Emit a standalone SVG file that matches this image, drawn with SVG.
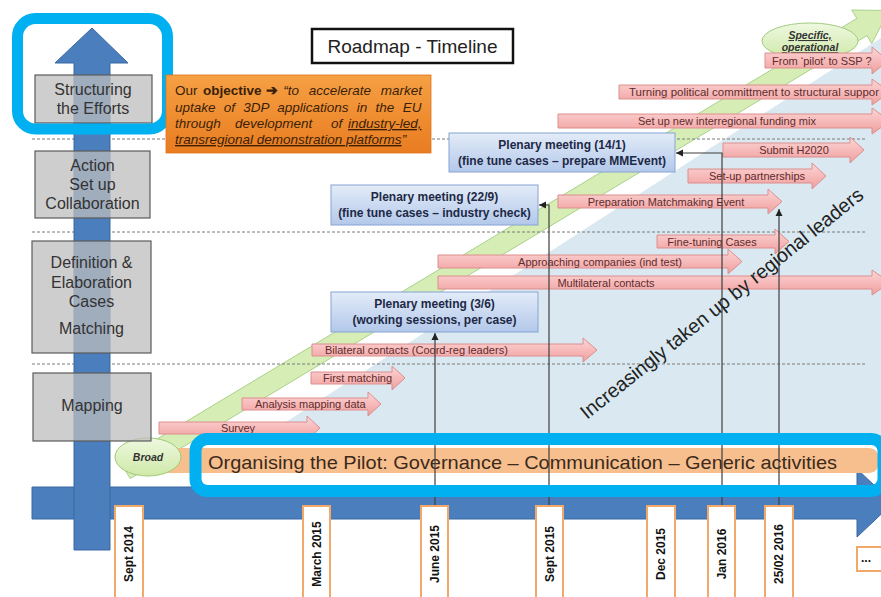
<svg xmlns="http://www.w3.org/2000/svg" width="881" height="597" viewBox="0 0 881 597">
<defs>
<linearGradient id="pk" x1="0" y1="0" x2="0" y2="1"><stop offset="0" stop-color="#fcd6d6"/><stop offset="1" stop-color="#f19e9e"/></linearGradient>
<linearGradient id="pl" x1="0" y1="0" x2="0" y2="1"><stop offset="0" stop-color="#e3ecf8"/><stop offset="1" stop-color="#b3c8ea"/></linearGradient>
<linearGradient id="og" x1="0" y1="0" x2="0" y2="1"><stop offset="0" stop-color="#f6a044"/><stop offset="1" stop-color="#e97c20"/></linearGradient>
<linearGradient id="gr" x1="0" y1="0" x2="0" y2="1"><stop offset="0" stop-color="#eef8e0"/><stop offset="1" stop-color="#cfe9a8"/></linearGradient>
<marker id="ah" markerWidth="8" markerHeight="8" refX="7" refY="4" orient="auto" markerUnits="userSpaceOnUse"><path d="M0,0.5 L7,4 L0,7.5 Z" fill="#222"/></marker>
<style>
text{font-family:"Liberation Sans",Arial,sans-serif}
.pa path{fill:url(#pk);stroke:#dc8e8e;stroke-width:1}
.pa text{font-size:11px;fill:#5e2c2c}
.pb rect{fill:url(#pl);stroke:#86a4d4;stroke-width:1}
.pb text{font-size:12px;font-weight:bold;fill:#1d2946;text-anchor:middle}
.gb rect{fill:#bdbdbd;fill-opacity:0.75;stroke:#5b5b5b;stroke-width:1.2}
.gb text{font-size:16px;fill:#333;text-anchor:middle}
.dl{stroke:#7a7a7a;stroke-width:1;stroke-dasharray:3 2}
.tl{fill:none;stroke:#3f3f3f;stroke-width:1.2}
.dt rect{fill:#fff;stroke:#f1a868;stroke-width:2}
.dt text{font-size:12px;font-weight:bold;fill:#111;text-anchor:middle}
.cy{fill:none;stroke:#00b0f0}
.ba{fill:#4a7ebd;stroke:#3a68a2;stroke-width:1}
.ob{font-size:13.5px;fill:#3a1f08;font-style:italic}
</style>
</defs>
<rect width="881" height="597" fill="#fff"/>
<!-- light blue region -->
<polygon points="258,440 881,38 881,442" fill="#dae9f1"/>
<!-- green band arrow -->
<path d="M119.9,461.4 L856.9,18.4 L851.7,10 L889,10.5 L871.7,43.7 L867,35.6 L130.2,478.6 Z" fill="#d6eeb6" stroke="#a9d18a" stroke-width="1"/>
<!-- dashed separators -->
<g id="separators">
<line class="dl" x1="32" y1="139" x2="866" y2="139"/>
<line class="dl" x1="32" y1="232" x2="866" y2="232"/>
<line class="dl" x1="32" y1="364" x2="866" y2="364"/>
</g>
<!-- horizontal time arrow -->
<path id="time-axis" class="ba" d="M32,487 H857 V469 L893,503 L857,537 V519 H32 Z"/>
<!-- specific ellipse -->
<g id="specific">
<ellipse cx="810" cy="41" rx="48" ry="18" fill="url(#gr)" stroke="#a3cc80"/>
<text x="810" y="39" font-size="10.5" font-weight="bold" font-style="italic" fill="#333" text-anchor="middle" text-decoration="underline">Specific,</text>
<text x="810" y="51" font-size="10.5" font-weight="bold" font-style="italic" fill="#333" text-anchor="middle" text-decoration="underline">operational</text>
</g>
<!-- pink activity arrows -->
<g id="a-pilot" class="pa"><path d="M765,53 H872 V47 L888,60.5 L872,74 V68 H765 Z"/><text x="772" y="64.5" font-size="11.5">From ‘pilot’ to SSP ?</text></g>
<g id="a-turning" class="pa"><path d="M619,85 H872 V79 L890,92 L872,105 V99 H619 Z"/><text x="629" y="96" textLength="250" lengthAdjust="spacingAndGlyphs">Turning political committment to structural suppor</text></g>
<g id="a-funding" class="pa"><path d="M558,114 H872 V108 L890,121 L872,134 V128 H558 Z"/><text x="727" y="125" text-anchor="middle">Set up new interregional funding mix</text></g>
<g id="a-submit" class="pa"><path d="M723,143 H850 V137 L864,150 L850,163 V157 H723 Z"/><text x="794" y="154" text-anchor="middle">Submit H2020</text></g>
<g id="a-partner" class="pa"><path d="M688,169 H812 V163 L826,176 L812,189 V183 H688 Z"/><text x="757" y="180" text-anchor="middle">Set-up partnerships</text></g>
<g id="a-prep" class="pa"><path d="M558,195 H768 V189 L782,201.5 L768,214 V208 H558 Z"/><text x="666" y="205.5" text-anchor="middle">Preparation Matchmaking Event</text></g>
<g id="a-finetune" class="pa"><path d="M657,235 H775 V229 L789,241.5 L775,254 V248 H657 Z"/><text x="712" y="245.5" text-anchor="middle">Fine-tuning Cases</text></g>
<g id="a-approach" class="pa"><path d="M438,255 H728 V249 L742,261.5 L728,274 V268 H438 Z"/><text x="600" y="265.5" text-anchor="middle">Approaching companies (ind test)</text></g>
<g id="a-multi" class="pa"><path d="M438,276 H872 V270 L890,282.5 L872,295 V289 H438 Z"/><text x="606" y="286.5" text-anchor="middle">Multilateral contacts</text></g>
<g id="a-bilateral" class="pa"><path d="M312,344 H583 V338 L597,350 L583,362 V356 H312 Z"/><text x="325" y="354">Bilateral contacts (Coord-reg leaders)</text></g>
<g id="a-first" class="pa"><path d="M311,372 H392 V366 L405,378 L392,390 V384 H311 Z"/><text x="323" y="382">First matching</text></g>
<g id="a-analysis" class="pa"><path d="M242,398 H368 V392 L381,404 L368,416 V410 H242 Z"/><text x="255" y="408">Analysis mapping data</text></g>
<g id="a-survey" class="pa"><path d="M159,422 H307 V416 L320,428 L307,440 V434 H159 Z"/><text x="238" y="432" text-anchor="middle">Survey</text></g>
<!-- plenary meetings -->
<g id="p-14-1" class="pb"><rect x="449" y="133" width="226" height="39"/><text x="562" y="149">Plenary meeting (14/1)</text><text x="562" y="165">(fine tune cases – prepare MMEvent)</text></g>
<g id="p-22-9" class="pb"><rect x="331" y="185" width="207" height="40"/><text x="434.5" y="201">Plenary meeting (22/9)</text><text x="434.5" y="217">(fine tune cases – industry check)</text></g>
<g id="p-3-6" class="pb"><rect x="331" y="292" width="207" height="40"/><text x="434.5" y="308">Plenary meeting (3/6)</text><text x="434.5" y="324">(working sessions, per case)</text></g>
<!-- organising bar -->
<g id="organising">
<path d="M150,448 H868 Q879,448 879,460.5 Q879,473 868,473 H150 Z" fill="#f7bf8e"/>
<text x="208" y="469" font-size="19" fill="#3b2a1c" textLength="629" lengthAdjust="spacingAndGlyphs">Organising the Pilot: Governance – Communication – Generic activities</text>
</g>
<!-- broad ellipse -->
<g id="broad">
<ellipse cx="148" cy="457" rx="33" ry="19" fill="url(#gr)" stroke="#9fc977"/>
<text x="148" y="461" font-size="10.5" font-weight="bold" font-style="italic" fill="#333" text-anchor="middle">Broad</text>
</g>
<!-- timeline connectors -->
<g id="connectors">
<path class="tl" d="M435,506 V333" marker-end="url(#ah)"/>
<path class="tl" d="M549,506 V205 H539" marker-end="url(#ah)"/>
<path class="tl" d="M722,506 V153 H676" marker-end="url(#ah)"/>
<path class="tl" d="M779,506 V209" marker-end="url(#ah)"/>
</g>
<!-- highlight frames -->
<rect class="cy" x="195.5" y="439" width="688" height="52" rx="12" stroke-width="12"/>
<!-- date labels -->
<g id="d-sep14" class="dt"><rect x="115" y="506" width="28" height="95"/><text transform="translate(133.3,554) rotate(-90)">Sept 2014</text></g>
<g id="d-mar15" class="dt"><rect x="303" y="506" width="27" height="95"/><text transform="translate(320.8,554) rotate(-90)">March 2015</text></g>
<g id="d-jun15" class="dt"><rect x="421" y="506" width="27" height="95"/><text transform="translate(438.8,554) rotate(-90)">June 2015</text></g>
<g id="d-sep15" class="dt"><rect x="536" y="506" width="27" height="95"/><text transform="translate(553.8,554) rotate(-90)">Sept 2015</text></g>
<g id="d-dec15" class="dt"><rect x="647" y="506" width="28" height="95"/><text transform="translate(665.3,554) rotate(-90)">Dec 2015</text></g>
<g id="d-jan16" class="dt"><rect x="708" y="506" width="27" height="95"/><text transform="translate(725.8,554) rotate(-90)">Jan 2016</text></g>
<g id="d-feb16" class="dt"><rect x="765" y="506" width="28" height="95"/><text transform="translate(783.3,554) rotate(-90)">25/02 2016</text></g>
<g id="d-more" class="dt"><rect x="857" y="547" width="30" height="24"/><text x="866" y="562" font-size="10" font-weight="normal" fill="#777">...</text></g>
<!-- vertical effort arrow -->
<path id="effort-axis" class="ba" d="M74,550 V63 H55 L92,28 L128,63 H110 V550 Z"/>
<!-- phase boxes -->
<g id="g-struct" class="gb"><rect x="35" y="75" width="117" height="48"/><text x="93" y="95">Structuring</text><text x="93" y="114">the Efforts</text></g>
<g id="g-action" class="gb"><rect x="35" y="151" width="115" height="67"/><text x="92.5" y="171">Action</text><text x="92.5" y="190">Set up</text><text x="92.5" y="209">Collaboration</text></g>
<g id="g-def" class="gb"><rect x="32" y="241" width="119" height="112"/><text x="91.5" y="268">Definition &amp;</text><text x="91.5" y="288">Elaboration</text><text x="91.5" y="307">Cases</text><text x="91.5" y="334">Matching</text></g>
<g id="g-map" class="gb"><rect x="33" y="373" width="118" height="68"/><text x="92" y="411">Mapping</text></g>
<rect class="cy" x="17.5" y="18.5" width="150" height="110.5" rx="18" stroke-width="11"/>
<!-- title -->
<g id="title">
<rect x="312" y="29" width="201" height="34" fill="#fff" stroke="#111" stroke-width="2.5"/>
<text x="412.5" y="53" font-size="19" fill="#222" text-anchor="middle">Roadmap - Timeline</text>
</g>
<!-- objective -->
<g id="objective">
<rect x="166" y="75" width="265" height="78" fill="url(#og)" stroke="#e0731a" stroke-width="0.8"/>
<text class="ob" y="95"><tspan x="175" font-style="normal">Our</tspan><tspan x="203" font-weight="bold" font-style="normal">objective</tspan><tspan x="266" font-weight="bold" font-style="normal">➔</tspan></text>
<text class="ob" x="422" y="95" text-anchor="end" word-spacing="6">“to accelerate market</text>
<text class="ob" x="175" y="112" word-spacing="4.5">uptake of 3DP applications in the EU</text>
<text class="ob" y="128"><tspan x="175">through</tspan><tspan x="235">development</tspan><tspan x="331">of</tspan><tspan x="348" text-decoration="underline">industry-led,</tspan></text>
<text class="ob" x="175" y="144"><tspan text-decoration="underline">transregional demonstration platforms</tspan>”</text>
</g>
<text id="uptake" transform="translate(587,420) rotate(-38.7)" font-size="20" fill="#222" textLength="356" lengthAdjust="spacingAndGlyphs">Increasingly taken up by regional leaders</text>
</svg>
